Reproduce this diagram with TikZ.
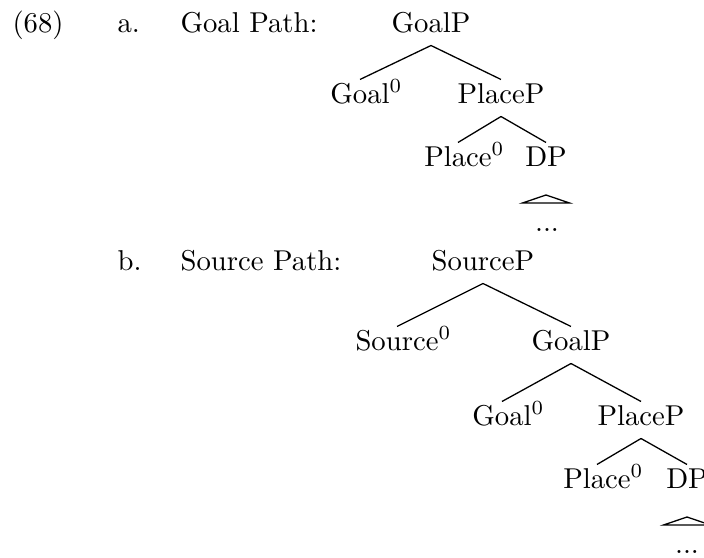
\documentclass[tikz,border=0pt]{standalone}
\begin{document}
\begin{tikzpicture}[x=0.3484pt,y=-0.3484pt,
  lab/.style={inner sep=0pt,anchor=base west},
  tn/.style={inner xsep=0pt,inner ysep=1.1pt,text height=6.9pt,text depth=3.4pt,anchor=base},
  br/.style={line width=0.45pt}]
\useasboundingbox (0,0) rectangle (704,557);
% labels
\node[lab] (ex) at (12,32) {(68)};
\node[lab] (la) at (117,32) {a.};
\node[lab] (ta) at (180,32) {Goal Path:};
\node[lab] (lb) at (117,270) {b.};
\node[lab] (tb) at (180,270) {Source Path:};
% tree a
\node[tn] (a1) at (431,32) {GoalP};
\node[tn] (a2) at (360,103) {Goal\rlap{$^0$}};
\node[tn] (a3) at (501,103) {PlaceP};
\node[tn] (a4) at (458,166) {Place\rlap{$^0$}};
\node[tn] (a5) at (546,166) {DP};
\node[tn] (a6) at (547,231) {...};
\draw[br] (a1.south) -- (a2.north);
\draw[br] (a1.south) -- (a3.north);
\draw[br] (a3.south) -- (a4.north);
\draw[br] (a3.south) -- (a5.north);
\draw[br] ([yshift=-5.4pt]a5.south) -- ++(-23.5,8) -- ++(47,0) -- cycle;
% tree b
\node[tn] (b1) at (483,270) {SourceP};
\node[tn] (b2) at (397,350) {Source\rlap{$^0$}};
\node[tn] (b3) at (571,350) {GoalP};
\node[tn] (b4) at (502,425) {Goal\rlap{$^0$}};
\node[tn] (b5) at (641,425) {PlaceP};
\node[tn] (b6) at (597,488) {Place\rlap{$^0$}};
\node[tn] (b7) at (687,488) {DP};
\node[tn] (b8) at (687,553) {...};
\draw[br] (b1.south) -- (b2.north);
\draw[br] (b1.south) -- (b3.north);
\draw[br] (b3.south) -- (b4.north);
\draw[br] (b3.south) -- (b5.north);
\draw[br] (b5.south) -- (b6.north);
\draw[br] (b5.south) -- (b7.north);
\draw[br] ([yshift=-5.4pt]b7.south) -- ++(-23.5,8) -- ++(47,0) -- cycle;
\end{tikzpicture}
\end{document}
